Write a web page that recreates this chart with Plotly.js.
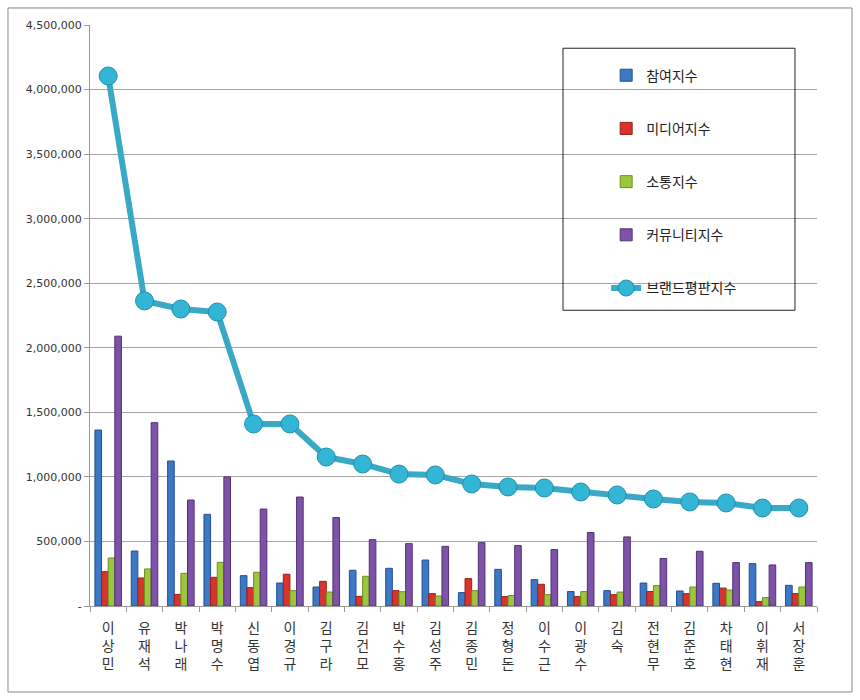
<!DOCTYPE html>
<html>
<head>
<meta charset="utf-8">
<script src="https://cdn.plot.ly/plotly-3.0.1.min.js"></script>
<style>
html,body{margin:0;padding:0;background:#fff;}
#chart{width:860px;height:700px;}
</style>
</head>
<body>
<div id="chart"></div>
<script>
const names = ["이상민","유재석","박나래","박명수","신동엽","이경규","김구라","김건모","박수홍","김성주","김종민","정형돈","이수근","이광수","김숙","전현무","김준호","차태현","이휘재","서장훈"];
const participation = [1363000,426000,1123000,710000,235000,178000,147000,277000,292000,356000,104000,284000,204000,112000,119000,178000,116000,176000,328000,160000];
const media = [266000,217000,90000,222000,142000,246000,191000,75000,119000,96000,212000,73000,168000,73000,88000,112000,96000,139000,34000,96000];
const communication = [372000,287000,253000,338000,261000,119000,108000,230000,111000,77000,119000,81000,88000,112000,108000,158000,147000,124000,65000,147000];
const community = [2090000,1420000,821000,1000000,751000,844000,685000,514000,483000,462000,491000,468000,437000,569000,535000,368000,424000,336000,318000,336000];
const brandIndex = [4105000,2363000,2300000,2277000,1410000,1410000,1154000,1100000,1022000,1015000,945000,922000,914000,883000,860000,829000,806000,798000,759000,759000];
const seriesNames = ["참여지수","미디어지수","소통지수","커뮤니티지수","브랜드평판지수"];
const yTickVals = [0,500000,1000000,1500000,2000000,2500000,3000000,3500000,4000000,4500000];
const yTickText = ["-","500,000","1,000,000","1,500,000","2,000,000","2,500,000","3,000,000","3,500,000","4,000,000","4,500,000"];

const xLabels = names.map(n => n.split("").join("<br>"));

function bar(vals, name, color, line, g){
  return {type:"bar", x:xLabels, y:vals, name:name, legendgroup:g,
    marker:{color:color, line:{color:line, width:1}}, hoverinfo:"y"};
}
const data = [
  bar(participation, seriesNames[0], "#3b78c6", "#24508f", "a"),
  bar(media, seriesNames[1], "#d8342e", "#9c1f1b", "b"),
  bar(communication, seriesNames[2], "#9cc63c", "#6f8f22", "c"),
  bar(community, seriesNames[3], "#7d52a8", "#523274", "d"),
  {type:"scatter", mode:"lines+markers", x:xLabels, y:brandIndex, name:seriesNames[4], legendgroup:"e",
   line:{color:"#3aa9c6", width:6},
   marker:{size:18, color:"#33b5d6", line:{color:"#1f8fae", width:1}}}
];

const layout = {
  width:860, height:700,
  margin:{l:90, r:43, t:25, b:94},
  paper_bgcolor:"#fff", plot_bgcolor:"#fff",
  font:{family:"Noto Sans CJK KR, Noto Sans, sans-serif", color:"#333"},
  barmode:"group", bargap:0.27, bargroupgap:0,
  showlegend:true,
  legend:{x:0.71, y:0.9404, xanchor:"left", yanchor:"top", tracegroupgap:32,
    bgcolor:"rgba(0,0,0,0)", borderwidth:0, traceorder:"grouped",
    font:{size:14, color:"#222", family:"Noto Sans CJK KR, sans-serif"}},
  xaxis:{type:"category", range:[-0.5,19.5], tickfont:{size:14, color:"#333", family:"Noto Sans CJK KR, sans-serif"},
    ticks:"outside", tickson:"boundaries", ticklen:5, tickcolor:"#999", ticklabelstandoff:9,
    showline:true, linecolor:"#999", linewidth:1, showgrid:false, fixedrange:true},
  yaxis:{range:[0,4500000], tickvals:yTickVals, ticktext:yTickText,
    tickfont:{size:11, color:"#333", family:"Verdana, DejaVu Sans, sans-serif"},
    showgrid:true, gridcolor:"#a6a6a6", gridwidth:1, zeroline:false,
    ticks:"outside", ticklen:5, tickcolor:"#999",
    showline:true, linecolor:"#999", linewidth:1},
  shapes:[
    {type:"rect", xref:"paper", yref:"paper", x0:0.6506, x1:0.9697, y0:0.509, y1:0.960,
     line:{color:"#222", width:1}, fillcolor:"rgba(0,0,0,0)", layer:"above"},
    {type:"rect", xref:"paper", yref:"paper", x0:-0.1128, x1:1.0482, y0:-0.148, y1:1.0293,
     line:{color:"#888", width:1}, fillcolor:"rgba(0,0,0,0)"}
  ]
};
Plotly.newPlot("chart", data, layout, {displayModeBar:false, staticPlot:true});
</script>
</body>
</html>
